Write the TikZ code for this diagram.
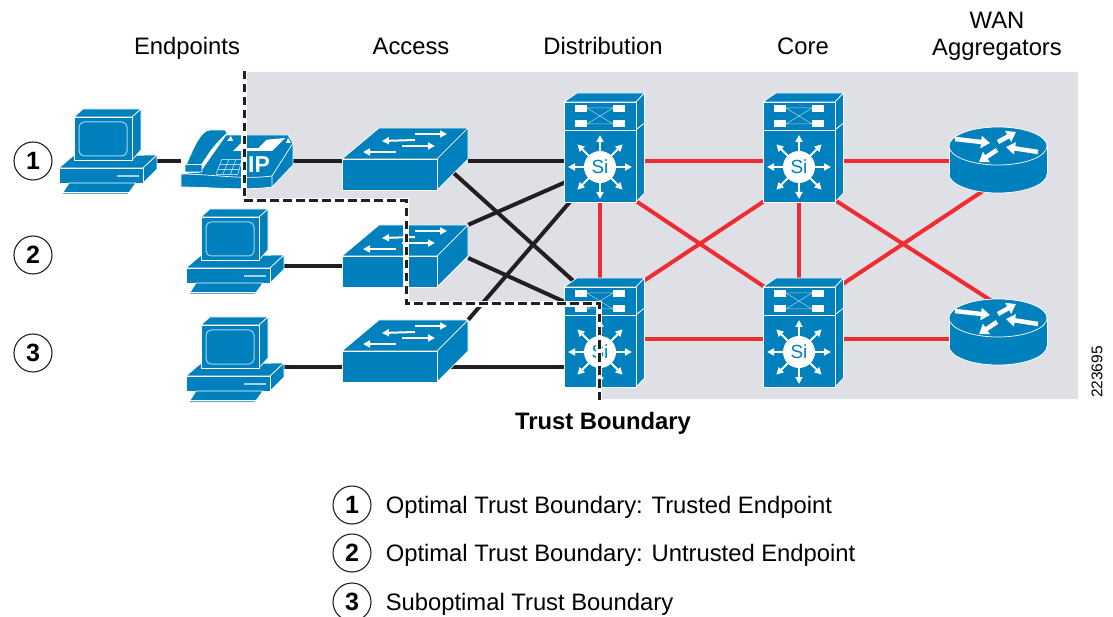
\documentclass[tikz,border=0pt]{standalone}
\usepackage{fontspec}
\setmainfont{Liberation Sans}
\usepackage{xcolor}
\usetikzlibrary{positioning,arrows.meta}

\definecolor{devblue}{HTML}{0080BC}
\definecolor{devlight}{HTML}{A6D3EA}
\definecolor{zonegrey}{HTML}{DFE0E6}
\definecolor{linkblack}{HTML}{231F20}
\definecolor{linkred}{HTML}{EE2D32}

\tikzset{
    face/.style={fill=devblue, draw=white, line width=0.7pt, line join=round},
    whitearrow/.style={white, line width=2pt, -{Triangle[length=7pt,width=7pt]}},
    pcicon/.pic={
        \draw[face] (-49,7) -- (-35,-5) -- (49,-6) -- (35,7) -- cycle;
        \draw[face] (35,7) -- (49,-6) -- (49,8) -- (35,22) -- cycle;
        \draw[face] (-49,7) rectangle (35,22);
        \draw[devlight, line width=1.8pt] (9,15) -- (31,15);
        \draw[face] (-39,22) -- (28,22) -- (20,33) -- (-46,33) -- cycle;
        \draw[white, line width=0.9pt] (-45,31) -- (21,31);
        \draw[face] (-34,-44) -- (-25,-52) -- (33,-52) -- (24,-44) -- cycle;
        \draw[face] (24,-44) -- (33,-52) -- (33,-11) -- (24,-1) -- cycle;
        \draw[face] (-34,-44) rectangle (24,-1);
        \draw[devlight, line width=1pt, rounded corners=5pt] (-29,-39) rectangle (19,-5);
    },
    phoneicon/.pic={
        \draw[face] (-56,13) -- (-56,26) .. controls (-25,26) and (5,30) .. (35,26)
            -- (56,4) -- (56,-18) -- (51,-26) -- (-11,-26) -- (-37,11) -- cycle;
        \draw[white, line width=0.7pt] (-56,13) .. controls (-25,13) and (5,19) .. (35,15) -- (35,26);
        \draw[white, line width=0.7pt] (35,15) -- (56,-18);
        \fill[white] (-4,-10) -- (5,-19) -- (48,-23) -- (35,-10) -- cycle;
        \fill[devblue] (6,-13) -- (11,-21) -- (30,-22) -- (21,-13) -- cycle;
        \fill[white] (-10,-20) -- (-6,-25) -- (-4,-20) -- cycle;
        \fill[white] (49,-18) -- (51,-23) -- (54,-18) -- cycle;
        \foreach \xa/\ya/\xb/\yb in {-15/-2/5/-2, -17/3/4/3, -19/8/2/8, -21/13/1/13,
                -15/-2/-21/13, -8/-2/-14/13, -1/-2/-6.5/13, 5/-2/1/13}
            \draw[devlight, line width=0.8pt] (\xa,\ya) -- (\xb,\yb);
        \draw[face] (-52,11) -- (-52,3) -- (-50,2) .. controls (-43,-14) and (-36,-31) .. (-27,-31)
            -- (-12,-31) -- (-10,-28) .. controls (-16,-22) and (-22,-16) .. (-27,-9)
            -- (-35,3) -- (-35,11) -- cycle;
        \draw[white, line width=0.7pt] (-52,3) -- (-35,3);
        \node[white, font=\fontsize{23}{26}\selectfont\bfseries] (-ip) at (22,4) {IP};
    },
    switchicon/.pic={
        \draw[face] (-63,-2) -- (-26,-33) -- (63,-33) -- (32,-2) -- cycle;
        \draw[face] (32,-2) -- (63,-33) -- (63,-2) -- (32,29) -- cycle;
        \draw[face] (-63,-2) rectangle (32,29);
        \draw[whitearrow] (10,-21) -- (-23,-20);
        \draw[whitearrow] (10,-27) -- (42,-27);
        \draw[whitearrow] (-3,-15) -- (30,-15);
        \draw[whitearrow] (-9,-9) -- (-42,-9);
    },
    multilayericon/.pic={
        \draw[face] (-36,-65) -- (-23,-74) -- (44.5,-74) -- (36,-65) -- cycle;
        \draw[face] (36,-65) -- (44.5,-74) -- (44.5,-44) -- (36,-37) -- cycle;
        \draw[face] (36,-37) -- (44.5,-44) -- (44.5,26) -- (36,35) -- cycle;
        \draw[face] (-36,-65) rectangle (36,-37);
        \draw[face] (-36,-37) rectangle (36,35);
        \fill[white] (-25,-62) rectangle (-13,-55);
        \fill[white] (13,-62) rectangle (25,-55);
        \fill[white] (-25,-47) rectangle (-13,-40);
        \fill[white] (13,-47) rectangle (25,-40);
        \draw[devlight, line width=0.5pt] (-13,-59) -- (13,-59) (-13,-43) -- (13,-43)
            (-13,-59) -- (13,-43) (-13,-43) -- (13,-59);
        \foreach \a in {0,45,...,315}
            \draw[whitearrow] (\a:14) -- (\a:32);
        \fill[white] (0,0) circle (16);
        \node[devblue, font=\fontsize{19}{22}\selectfont] (-si) at (0,0) {Si};
    },
    routericon/.pic={
        \draw[face] (0,14) ellipse [x radius=49, y radius=19];
        \fill[devblue] (-49,-14) rectangle (49,14);
        \draw[white, line width=0.7pt] (-49,-14) -- (-49,14) (49,-14) -- (49,14);
        \draw[face] (0,-14) ellipse [x radius=49, y radius=19];
        \foreach \xa/\ya/\xb/\yb in {-43/-21/-8/-17, 0/-18/18/-28, 40/-8/8/-13, -1/-10/-19/2}
            \draw[white, line width=4.5pt, -{Triangle[length=9pt,width=12pt]}] (\xa,\ya) -- (\xb,\yb);
    }
}

\begin{document}
\begin{tikzpicture}[
    x=1pt, y=-1pt,
    device/.style={rectangle, inner sep=0pt},
    pcbox/.style={device, minimum width=98pt, minimum height=80pt},
    phonebox/.style={device, minimum width=112pt, minimum height=50pt},
    switchbox/.style={device, minimum width=126pt, minimum height=66pt},
    mlsbox/.style={device, minimum size=40pt},
    routerbox/.style={device, minimum width=98pt, minimum height=66pt},
    access/.style={linkblack, line width=4pt},
    backbone/.style={linkred, line width=4pt},
    boundary/.style={linkblack, line width=3pt, dash pattern=on 8.5pt off 4.5pt,
        preaction={draw=white, line width=6pt, solid}},
    head/.style={font=\fontsize{23.8}{27}\selectfont, inner sep=0pt, text height=17pt, text depth=5pt},
    numcirc/.style={circle, draw=linkblack, line width=1.1pt, minimum size=38pt, inner sep=0pt,
        font=\fontsize{25}{27}\selectfont\bfseries},
    legtext/.style={font=\fontsize{23.8}{27}\selectfont, inner sep=0pt, text height=17pt, text depth=1pt}
]
\useasboundingbox (0,0) rectangle (1113,617);

% Trusted zone
\fill[zonegrey] (247,72) -- (1078,72) -- (1078,399) -- (602,399) -- (602,302)
    -- (408,302) -- (408,198) -- (247,198) -- cycle;

% Column titles
\node[head] (titleend) at (187,49) {Endpoints};
\node[head] (titleacc) at (411,49) {Access};
\node[head] (titledist) at (603,49) {Distribution};
\node[head] (titlecore) at (803,49) {Core};
\node[font=\fontsize{23.8}{27}\selectfont, align=center, inner sep=0pt, anchor=south] (titlewan) at (997,61) {WAN\\Aggregators};

% Devices
\node[pcbox] (pc1) at (108,161) {};
\node[phonebox] (phone) at (237,161) {};
\node[pcbox] (pc2) at (235,261) {};
\node[pcbox] (pc3) at (235,369) {};
\node[switchbox] (sw1) at (405,161) {};
\node[switchbox] (sw2) at (405,258) {};
\node[switchbox] (sw3) at (405,353) {};
\node[mlsbox] (dist1) at (600,167) {};
\node[mlsbox] (dist2) at (600,352) {};
\node[mlsbox] (core1) at (799,167) {};
\node[mlsbox] (core2) at (799,352) {};
\node[routerbox] (router1) at (998,160) {};
\node[routerbox] (router2) at (998,332) {};

% Link heights
\coordinate (rowa) at (0,161);
\coordinate (rowb) at (0,266);
\coordinate (rowc) at (0,367);
\coordinate (rowd) at (0,339);

% Endpoint and access links
\draw[access] (pc1) -- (phone);
\draw[access] (phone) -- (sw1);
\draw[access] (pc2.east |- rowb) -- (sw2.west |- rowb);
\draw[access] (pc3.east |- rowc) -- (sw3.west |- rowc);
\draw[access] (sw1) -- (dist1 |- rowa);
\draw[access] ([xshift=32pt,yshift=3pt]sw1.center) -- ([yshift=47pt]dist2.center);
\draw[access] (sw2.north east) -- (dist1.center);
\draw[access] (sw2.east) -- ([yshift=34pt]dist2.center);
\draw[access] (sw3.north east) -- (dist1.center);
\draw[access] (sw3 |- rowc) -- (dist2 |- rowc);

% Backbone links
\draw[backbone] (dist1 |- rowa) -- (core1 |- rowa);
\draw[backbone] (core1 |- rowa) -- (router1 |- rowa);
\draw[backbone] (dist2 |- rowd) -- (core2 |- rowd);
\draw[backbone] (core2 |- rowd) -- (router2 |- rowd);
\draw[backbone] (dist1) -- (dist2);
\draw[backbone] (core1) -- (core2);
\draw[backbone] ([yshift=-10pt]dist1.center) -- ([yshift=42pt]core2.center);
\draw[backbone] ([yshift=42pt]dist2.center) -- ([yshift=-11pt]core1.center);
\draw[backbone] ([yshift=-10pt]core1.center) -- ([yshift=27pt]router2.center);
\draw[backbone] ([yshift=39pt]core2.center) -- ([yshift=-21pt]router1.center);

% Device icons
\pic at (pc1) {pcicon};
\pic (phn) at (phone) {phoneicon};
\pic at (pc2) {pcicon};
\pic at (pc3) {pcicon};
\pic at (sw1) {switchicon};
\pic at (sw2) {switchicon};
\pic at (sw3) {switchicon};
\pic (dsa) at (dist1) {multilayericon};
\pic (dsb) at (dist2) {multilayericon};
\pic (cra) at (core1) {multilayericon};
\pic (crb) at (core2) {multilayericon};
\pic at (router1) {routericon};
\pic at (router2) {routericon};

% Trust boundary
\draw[boundary] (244,71) -- (244,201) -- (406,201) -- (406,304) -- (599,304) -- (599,400);
\node[font=\fontsize{23.8}{27}\selectfont\bfseries, inner sep=0pt] (trust) at (603,423) {Trust Boundary};

% Row numbers
\node[numcirc] (num1) at (33,161) {1};
\node[numcirc] (num2) at (33,255) {2};
\node[numcirc] (num3) at (33,353) {3};

% Legend
\node[numcirc] (leg1) at (352,505) {1};
\node[numcirc] (leg2) at (352,553) {2};
\node[numcirc] (leg3) at (352,602) {3};
\node[legtext, right=14pt of leg1] (legtext1) {Optimal Trust Boundary: Trusted Endpoint};
\node[legtext, right=14pt of leg2] (legtext2) {Optimal Trust Boundary: Untrusted Endpoint};
\node[legtext, right=14pt of leg3] (legtext3) {Suboptimal Trust Boundary};

\node[rotate=90, font=\fontsize{15.5}{18}\selectfont, inner sep=0pt] (figid) at (1097,372) {223695};

\end{tikzpicture}
\end{document}
